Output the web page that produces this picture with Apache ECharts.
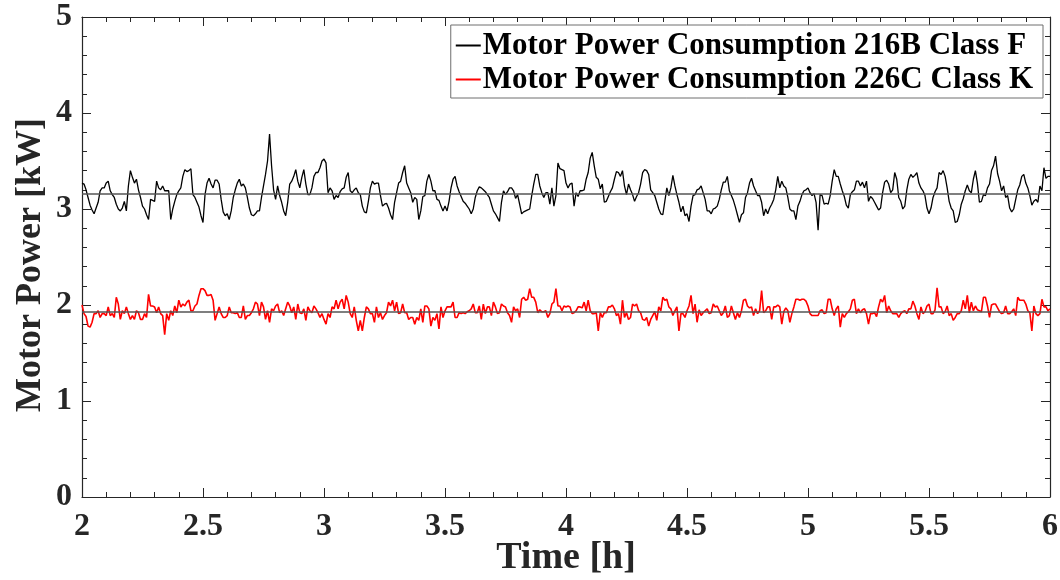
<!DOCTYPE html>
<html>
<head>
<meta charset="utf-8">
<script src="https://cdn.jsdelivr.net/npm/echarts/dist/echarts.min.js"></script>
<style>html,body{margin:0;padding:0;background:#fff}#chart{width:1060px;height:580px}</style>
</head>
<body>
<div id="chart"></div>
<script>
// ---- data ----
const seriesNames = ['Motor Power Consumption 216B Class F', 'Motor Power Consumption 226C Class K'];
const timeStart = 2;               // h
const sampleStep = 1 / 120;        // h per sample (30 s)
const meanValues = [3.16, 1.93];   // kW
const xTicks = [2, 2.5, 3, 3.5, 4, 4.5, 5, 5.5, 6];
const yTicks = [0, 1, 2, 3, 4, 5];

const power216B = [
3.27,3.26,3.20,3.12,3.04,2.99,2.95,3.01,3.07,3.19,
3.22,3.22,3.27,3.29,3.19,3.15,3.12,3.05,3.00,2.98,
3.01,3.08,2.98,3.24,3.40,3.33,3.27,3.31,3.20,3.12,
3.03,3.00,2.94,2.89,3.10,3.09,3.08,3.29,3.22,3.20,
3.24,3.19,3.19,3.19,2.89,3.00,3.08,3.15,3.19,3.22,
3.34,3.41,3.39,3.40,3.42,3.15,3.12,3.07,3.02,2.93,
2.86,3.15,3.27,3.32,3.26,3.22,3.30,3.30,3.26,3.10,
2.97,2.93,2.95,2.89,2.98,3.12,3.20,3.27,3.31,3.24,
3.26,3.22,3.12,3.01,2.94,2.93,2.95,2.98,2.98,3.12,
3.24,3.36,3.50,3.78,3.45,3.20,3.10,3.24,3.14,3.07,
2.98,2.93,3.07,3.26,3.29,3.34,3.41,3.29,3.22,3.33,
3.41,3.26,3.15,3.15,3.22,3.34,3.38,3.38,3.43,3.50,
3.52,3.48,3.17,3.22,3.19,3.10,3.14,3.12,3.18,3.21,
3.22,3.33,3.38,3.19,3.17,3.20,3.22,3.17,3.15,3.03,
2.97,2.96,3.08,3.22,3.29,3.26,3.27,3.27,3.14,3.03,
3.05,3.06,3.01,2.94,2.89,3.07,3.17,3.27,3.29,3.38,
3.45,3.27,3.22,3.17,3.07,3.12,3.10,2.89,2.98,3.13,
3.14,3.29,3.36,3.29,3.19,3.19,3.10,3.09,3.03,2.98,
3.03,2.98,3.08,3.22,3.31,3.34,3.24,3.18,3.13,3.08,
3.06,3.03,3.00,2.95,3.00,3.12,3.19,3.23,3.22,3.20,
3.18,3.15,3.12,3.05,2.98,2.95,2.91,2.87,3.07,3.19,
3.15,3.18,3.22,3.22,3.19,3.11,3.15,3.05,2.95,2.97,
2.98,2.99,3.00,3.14,3.26,3.36,3.36,3.24,3.17,3.12,
3.17,3.17,3.05,3.22,3.03,3.14,3.48,3.42,3.41,3.40,
3.27,3.22,3.26,3.27,3.03,3.17,3.13,3.19,3.19,3.20,
3.31,3.38,3.53,3.59,3.45,3.33,3.31,3.21,3.26,3.07,
3.08,3.13,3.18,3.22,3.31,3.39,3.38,3.34,3.40,3.24,
3.15,3.26,3.20,3.15,3.08,3.13,3.17,3.26,3.38,3.41,
3.40,3.36,3.20,3.17,3.14,3.07,3.00,2.95,2.94,3.08,
3.22,3.14,3.22,3.35,3.24,3.15,3.07,2.97,3.03,2.93,
2.95,2.87,3.03,3.14,3.15,3.20,3.21,3.24,3.17,3.10,
2.98,2.98,2.95,3.00,3.01,3.03,3.10,3.20,3.28,3.28,
3.34,3.19,3.14,3.09,3.02,2.94,2.86,2.94,2.96,3.12,
3.17,3.27,3.32,3.24,3.19,3.14,3.14,3.07,2.93,3.00,
2.95,3.01,3.05,3.10,3.20,3.34,3.22,3.29,3.24,3.22,
3.12,3.00,2.98,2.98,2.89,3.03,3.08,3.15,3.19,3.20,
3.22,3.17,3.14,3.16,3.07,2.78,3.15,3.14,3.05,3.06,
3.05,3.14,3.29,3.41,3.34,3.34,3.26,3.19,3.13,3.04,
3.01,3.15,3.18,3.20,3.29,3.29,3.24,3.28,3.22,3.29,
3.08,3.13,3.11,3.07,3.03,2.99,3.01,3.17,3.28,3.30,
3.26,3.17,3.20,3.38,3.31,3.12,3.08,3.00,3.03,3.20,
3.31,3.36,3.33,3.35,3.38,3.27,3.22,3.19,3.14,3.01,
2.95,3.01,3.12,3.18,3.22,3.38,3.36,3.40,3.34,3.22,
3.08,3.01,2.98,2.86,2.87,2.94,3.05,3.11,3.19,3.25,
3.19,3.17,3.31,3.40,3.27,3.07,3.08,3.15,3.14,3.22,
3.26,3.40,3.45,3.55,3.37,3.29,3.19,3.24,3.12,3.14,
3.01,2.97,3.00,3.10,3.20,3.25,3.34,3.36,3.27,3.22,
3.14,3.04,3.08,3.10,3.07,3.24,3.19,3.43,3.32,3.34,
3.34
];

const power226C = [
2.00,1.91,1.88,1.78,1.77,1.82,1.91,1.91,1.94,1.87,
1.91,1.91,1.89,1.98,1.89,1.91,1.87,2.08,2.01,1.85,
1.94,1.91,1.98,1.91,1.85,1.89,1.85,1.94,1.92,1.85,
1.85,1.91,1.87,2.11,1.99,1.99,1.98,1.92,1.98,1.91,
1.89,1.69,1.91,1.84,1.94,1.89,1.99,1.92,2.05,1.98,
2.01,1.99,2.03,2.05,1.94,1.94,1.99,2.01,2.10,2.17,
2.17,2.15,2.10,2.10,2.11,2.05,1.84,1.91,1.98,1.91,
1.87,1.87,1.89,1.98,1.92,1.92,1.91,1.92,1.87,1.87,
1.99,1.85,1.89,1.89,1.92,1.96,2.03,2.01,1.89,2.03,
1.98,1.85,1.94,1.82,1.96,1.94,1.99,2.01,1.92,1.94,
1.89,1.96,2.03,1.99,1.92,1.98,1.85,2.01,1.92,1.91,
1.96,1.84,1.98,1.94,1.92,1.99,1.96,1.92,1.87,1.91,
1.85,1.80,1.91,1.87,1.98,1.96,2.05,1.96,2.03,2.06,
1.96,2.10,2.03,1.91,1.87,1.98,1.84,1.73,1.84,1.73,
1.87,1.98,1.96,1.91,1.91,1.82,1.98,1.87,1.92,1.85,
1.89,1.92,2.03,1.99,2.05,1.94,2.03,1.91,1.92,2.01,
1.92,1.92,1.85,1.87,1.87,1.80,1.87,1.84,1.96,1.82,
1.99,1.99,1.96,1.78,1.87,1.84,1.91,1.75,1.98,1.87,
1.94,1.98,1.98,1.98,2.03,1.87,1.87,1.92,1.91,1.92,
1.91,1.93,1.94,1.96,2.01,1.92,1.92,1.99,1.85,2.01,
1.91,1.98,1.98,1.89,2.03,1.98,1.91,1.92,2.01,1.99,
1.98,1.92,1.89,1.82,1.98,1.94,1.96,1.87,2.06,2.08,
2.05,2.06,2.17,2.08,2.08,2.03,1.92,1.95,1.93,1.93,
1.94,1.87,1.91,2.01,2.03,2.17,1.99,1.99,1.94,1.99,
1.98,1.99,1.98,1.91,1.92,1.94,1.98,1.98,1.97,2.03,
1.94,2.05,1.94,1.91,1.91,1.92,1.73,1.92,1.87,1.92,
1.92,1.98,1.98,2.00,1.96,1.89,1.91,1.80,2.05,1.87,
1.92,1.85,1.87,2.01,1.99,2.01,1.94,1.92,1.85,1.84,
1.87,1.78,1.85,1.89,1.93,1.84,1.98,1.94,2.08,2.05,
2.06,1.98,1.96,1.89,1.94,1.98,1.73,1.91,1.91,1.87,
1.94,1.99,2.10,1.91,2.01,1.82,1.95,1.89,1.92,1.94,
1.96,1.91,1.92,2.01,1.98,1.99,1.94,1.89,1.92,1.99,
1.87,1.89,1.99,1.92,1.85,1.92,1.87,1.94,2.05,2.06,
1.99,1.97,1.98,1.89,1.96,1.91,1.94,2.15,1.92,1.94,
1.98,1.98,1.85,1.98,1.98,2.00,1.98,1.80,1.93,1.97,
1.94,1.82,1.91,1.98,2.06,2.06,2.05,2.06,2.06,2.04,
1.99,1.91,1.89,1.89,1.89,1.89,1.94,1.95,1.91,1.92,
2.06,2.06,1.96,1.89,1.96,1.99,1.77,1.91,1.87,1.91,
1.93,1.96,2.05,2.06,1.91,1.96,1.92,1.95,1.96,1.91,
1.80,1.91,1.91,1.92,1.88,1.98,2.06,2.03,2.10,1.92,
1.99,1.94,1.91,1.91,1.91,1.87,1.91,1.93,1.94,1.91,
1.96,1.96,2.04,1.99,1.91,1.85,1.98,1.91,1.93,1.99,
2.01,1.91,1.91,1.95,2.18,1.98,1.98,1.91,1.93,1.99,
1.89,1.91,1.84,1.87,1.91,1.91,1.94,2.05,1.96,2.10,
1.92,2.03,1.94,1.99,1.95,1.94,1.93,2.08,2.08,1.99,
1.87,2.00,2.01,2.01,1.97,1.93,1.91,1.92,1.99,1.91,
1.91,1.93,1.96,1.89,2.08,2.05,2.05,2.05,2.01,1.94,
1.92,1.73,1.99,1.91,1.89,1.91,2.06,1.98,1.98,1.94,
1.96
];

// ---- chart ----
const FONT = '"Liberation Serif", "Times New Roman", serif';
const AXIS_COLOR = '#262626';
const chart = echarts.init(document.getElementById('chart'), null, {renderer: 'canvas'});

function toPairs(values, step) {
  return values.map((v, i) => [timeStart + i * step, v]);
}

function axisBase(extra) {
  return Object.assign({
    type: 'value',
    axisLine: {show: true, onZero: false, lineStyle: {color: AXIS_COLOR, width: 1.2}},
    axisTick: {show: true, inside: true, length: 9, lineStyle: {color: AXIS_COLOR, width: 1}},
    minorTick: {show: true, splitNumber: 5, length: 5, lineStyle: {color: AXIS_COLOR, width: 1}},
    splitLine: {show: false},
    minorSplitLine: {show: false}
  }, extra);
}

const labelStyle = {fontFamily: FONT, fontWeight: 'bold', fontSize: 32, color: AXIS_COLOR};

const option = {
  backgroundColor: '#ffffff',
  animation: false,
  grid: {left: 82, right: 10, top: 17, bottom: 83, containLabel: false, outerBoundsMode: 'none'},
  legend: {
    orient: 'vertical',
    right: 17,
    top: 25,
    itemWidth: 25,
    itemHeight: 2,
    itemGap: 3,
    icon: 'rect',
    padding: [5, 10, 3, 5],
    borderColor: '#6e6e6e',
    borderWidth: 1,
    backgroundColor: '#ffffff',
    textStyle: {fontFamily: FONT, fontWeight: 'bold', fontSize: 31, color: '#000', padding: [0, 0, 0, -3]},
    data: seriesNames
  },
  xAxis: [
    axisBase({
      min: xTicks[0], max: xTicks[xTicks.length - 1], interval: 0.5, position: 'bottom',
      name: 'Time [h]', nameLocation: 'middle', nameGap: 42, nameMoveOverlap: false,
      nameTextStyle: {fontFamily: FONT, fontWeight: 'bold', fontSize: 38, color: AXIS_COLOR},
      axisLabel: Object.assign({margin: 14, showMinLabel: true, showMaxLabel: true}, labelStyle)
    }),
    axisBase({
      min: xTicks[0], max: xTicks[xTicks.length - 1], interval: 0.5, position: 'top',
      axisLabel: {show: false}
    })
  ],
  yAxis: [
    axisBase({
      min: yTicks[0], max: yTicks[yTicks.length - 1], interval: 1, position: 'left',
      name: 'Motor Power [kW]', nameLocation: 'middle', nameGap: 33, nameRotate: 90, nameMoveOverlap: false,
      nameTextStyle: {fontFamily: FONT, fontWeight: 'bold', fontSize: 36, color: AXIS_COLOR, padding: [0, 16, 0, 0]},
      axisLabel: Object.assign({margin: 10}, labelStyle)
    }),
    axisBase({
      min: yTicks[0], max: yTicks[yTicks.length - 1], interval: 1, position: 'right',
      axisLabel: {show: false}
    })
  ],
  series: [
    {
      name: seriesNames[0], type: 'line', xAxisIndex: 0, yAxisIndex: 0,
      data: toPairs(power216B, sampleStep),
      showSymbol: false, symbol: 'none',
      lineStyle: {color: '#000000', width: 1.3},
      itemStyle: {color: '#000000'},
      markLine: {
        silent: true, symbol: 'none', label: {show: false},
        lineStyle: {color: '#555555', width: 1.6, type: 'solid'},
        data: [{yAxis: meanValues[0]}]
      }
    },
    {
      name: seriesNames[1], type: 'line', xAxisIndex: 0, yAxisIndex: 0,
      data: toPairs(power226C, sampleStep),
      showSymbol: false, symbol: 'none',
      lineStyle: {color: '#ff0000', width: 1.6},
      itemStyle: {color: '#ff0000'},
      markLine: {
        silent: true, symbol: 'none', label: {show: false},
        lineStyle: {color: '#555555', width: 1.6, type: 'solid'},
        data: [{yAxis: meanValues[1]}]
      }
    }
  ]
};
chart.setOption(option);
</script>
</body>
</html>
